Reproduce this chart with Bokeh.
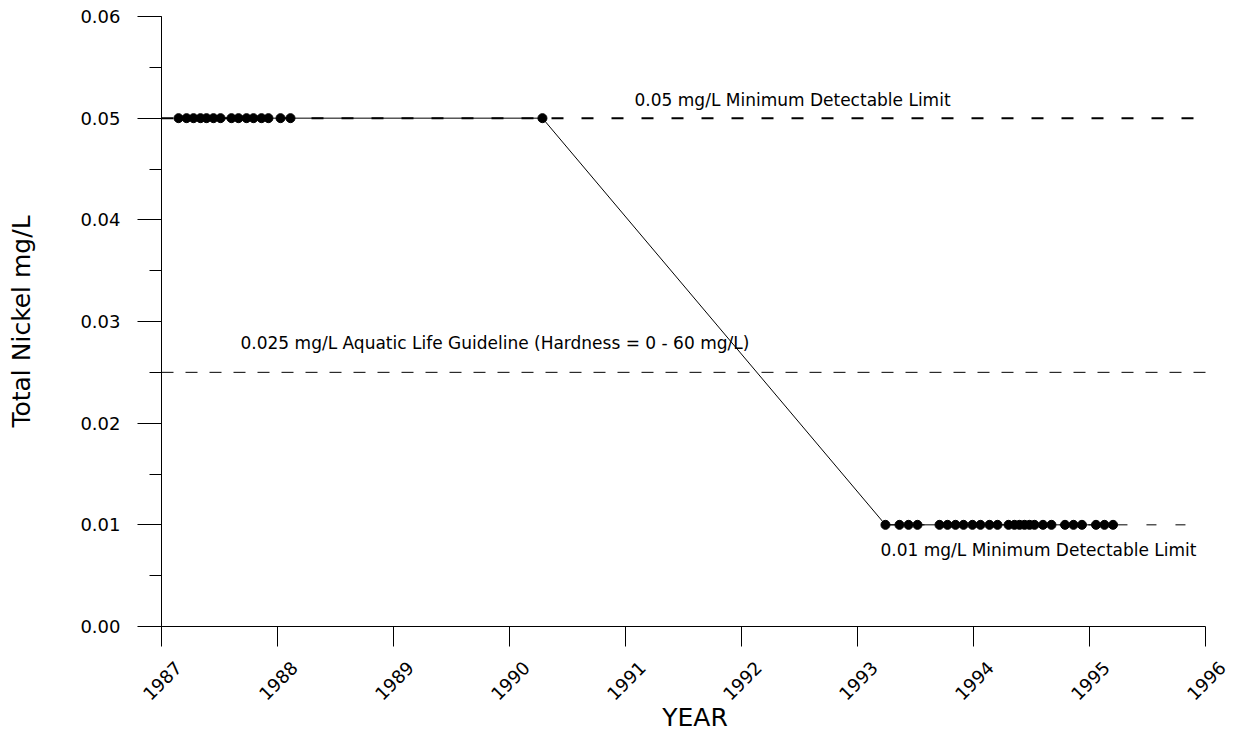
from bokeh.plotting import figure
from bokeh.models import (Range1d, FixedTicker, SingleIntervalTicker, NumeralTickFormatter,
                          ColumnDataSource, Label, LinearAxis)
from bokeh.embed import file_html
from bokeh.resources import INLINE
import math

# ---- data (decimal years, mg/L) ----
years = [1987.147, 1987.216, 1987.276, 1987.336, 1987.388, 1987.448, 1987.509,
         1987.603, 1987.664, 1987.733, 1987.793, 1987.862, 1987.922,
         1988.026, 1988.112,
         1990.284,
         1993.241, 1993.362, 1993.440, 1993.517,
         1993.707, 1993.776, 1993.845, 1993.914, 1993.991, 1994.060, 1994.138,
         1994.207, 1994.302, 1994.353, 1994.397, 1994.440, 1994.483, 1994.526,
         1994.599, 1994.672, 1994.789, 1994.862, 1994.935, 1995.056, 1995.129,
         1995.203]
nickel = [0.05] * 16 + [0.01] * 26

limit_values = [0.05, 0.025, 0.01]
limit_x_start = [1987.0, 1987.0, 1993.241]
limit_x_end = [1996.0, 1996.0, 1995.87]
limit_labels = ["0.05 mg/L Minimum Detectable Limit",
                "0.025 mg/L Aquatic Life Guideline (Hardness = 0 - 60 mg/L)",
                "0.01 mg/L Minimum Detectable Limit"]

x_ticks = list(range(1987, 1997))

FONT = "DejaVu Sans"
X0, X1 = 1987, 1996
PX_PER_YEAR = 116.0
EXT = 23.0 / PX_PER_YEAR      # room on the right for the last rotated year label

p = figure(width=1238, height=740, output_backend="svg", toolbar_location=None,
           x_range=Range1d(X0, X1 + EXT), y_range=Range1d(0, 0.06),
           min_border_left=161, min_border_right=10, min_border_top=16,
           min_border_bottom=114)
p.outline_line_color = None
p.xgrid.visible = False
p.ygrid.visible = False
p.background_fill_color = "white"
p.border_fill_color = "white"

# limit / guideline lines
limit_styles = [dict(line_width=2, line_dash="12 18"),
                dict(line_width=1, line_dash="12 12"),
                dict(line_width=1, line_dash="10 19")]
for v, xs, xe, st in zip(limit_values, limit_x_start, limit_x_end, limit_styles):
    p.line([xs, xe], [v, v], line_color="black", **st)

src = ColumnDataSource(dict(x=years, y=nickel))
p.line("x", "y", source=src, line_color="black", line_width=1)
p.scatter("x", "y", source=src, size=9, fill_color="black", line_color="black")

label_pos = [(1991.078, 0.0518), (1987.681, 0.0279), (1993.198, 0.0075)]
for (lx, ly), txt in zip(label_pos, limit_labels):
    p.add_layout(Label(x=lx, y=ly, text=txt, text_font=FONT, text_font_size="17px",
                       text_baseline="middle", text_align="left", text_color="black"))

# x axis: tick marks on the data range
xa = p.xaxis[0]
xa.ticker = FixedTicker(ticks=x_ticks)
xa.bounds = (X0, X1)
xa.major_label_text_color = None
xa.major_tick_out = 20
xa.major_tick_in = 0
xa.minor_tick_line_color = None
xa.axis_line_color = "black"
xa.major_tick_line_color = "black"

# x axis labels: rotated year labels, shifted so they sit centred under the ticks
shift = 17.0 / PX_PER_YEAR
p.extra_x_ranges = {"year_labels": Range1d(X0 - shift, X1 + EXT - shift)}
xl = LinearAxis(x_range_name="year_labels", ticker=FixedTicker(ticks=x_ticks),
                bounds=(X0, X1))
xl.axis_line_color = None
xl.major_tick_line_color = None
xl.minor_tick_line_color = None
xl.major_tick_out = 0
xl.major_tick_in = 0
xl.major_label_orientation = math.pi / 4
xl.major_label_standoff = 18
xl.major_label_text_font = FONT
xl.major_label_text_font_size = "18px"
xl.major_label_text_color = "black"
xl.axis_label = "YEAR"
xl.axis_label_text_font = FONT
xl.axis_label_text_font_size = "25px"
xl.axis_label_text_font_style = "normal"
xl.axis_label_text_color = "black"
xl.axis_label_standoff = -6
p.add_layout(xl, "below")

ya = p.yaxis[0]
ya.ticker = SingleIntervalTicker(interval=0.01, num_minor_ticks=2)
ya.formatter = NumeralTickFormatter(format="0.00")
ya.major_tick_out = 24
ya.major_tick_in = 0
ya.minor_tick_out = 12
ya.minor_tick_in = 0
ya.major_label_standoff = 17
ya.major_label_text_font = FONT
ya.major_label_text_font_size = "18px"
ya.major_label_text_color = "black"
ya.axis_label = "Total Nickel mg/L"
ya.axis_label_text_font = FONT
ya.axis_label_text_font_size = "25px"
ya.axis_label_text_font_style = "normal"
ya.axis_label_text_color = "black"
ya.axis_label_standoff = 41
ya.axis_line_color = "black"
ya.major_tick_line_color = "black"
ya.minor_tick_line_color = "black"

open("out.html", "w").write(file_html(p, INLINE))
